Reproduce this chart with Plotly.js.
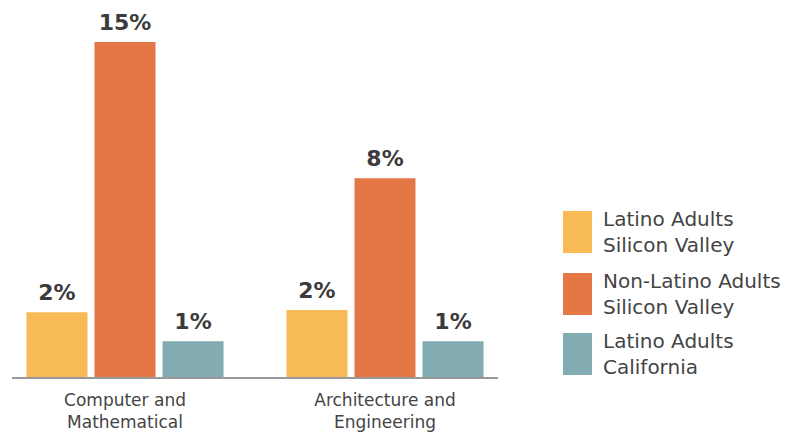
<!DOCTYPE html>
<html><head><meta charset="utf-8">
<script src="https://cdn.plot.ly/plotly-3.0.1.min.js"></script>
<style>html,body{margin:0;padding:0;background:#fff}#chart{width:803px;height:432px}</style>
</head><body><div id="chart"></div>
<script>
const categories = ["Computer and<br>Mathematical", "Architecture and<br>Engineering"];
const seriesNames = ["Latino Adults<br>Silicon Valley", "Non-Latino Adults<br>Silicon Valley", "Latino Adults<br>California"];
const latinoSV = [2.9, 3.0];
const nonLatinoSV = [15.0, 8.9];
const latinoCA = [1.6, 1.6];
const labelsLatinoSV = ["2%", "2%"];
const labelsNonLatinoSV = ["15%", "8%"];
const labelsLatinoCA = ["1%", "1%"];
const colors = ["#F8BA57", "#E57747", "#82ACB1"];

const values = [latinoSV, nonLatinoSV, latinoCA];
const labels = [labelsLatinoSV, labelsNonLatinoSV, labelsLatinoCA];
const labelPad = 0.2; // gap between bar top and its label, in axis units

const traces = [];
values.forEach((v, i) => {
  traces.push({
    type: 'bar', x: categories, y: v, name: seriesNames[i], offsetgroup: 'g' + i,
    marker: {color: colors[i]}, hoverinfo: 'none', showlegend: false
  });
});
values.forEach((v, i) => {
  traces.push({
    type: 'bar', x: categories, y: v.map(() => labelPad), base: v, offsetgroup: 'g' + i,
    marker: {color: 'rgba(0,0,0,0)'},
    text: labels[i], textposition: 'outside', cliponaxis: false,
    textfont: {family: 'DejaVu Sans', size: 22, color: '#3b3b3b', weight: 'bold'},
    hoverinfo: 'none', showlegend: false
  });
});

// custom legend (paper coords relative to plot area)
const L = 12, R = 498, T = 0, B = 377;
const px = p => (p - L) / (R - L);
const py = p => (B - p) / (B - T);
const shapes = [], annotations = [];
const legTop = [211, 273, 333];
colors.forEach((c, i) => {
  shapes.push({type: 'rect', xref: 'paper', yref: 'paper', x0: px(563), x1: px(592), y0: py(legTop[i]), y1: py(legTop[i] + 42), fillcolor: c, line: {width: 0}});
  annotations.push({xref: 'paper', yref: 'paper', x: px(601), y: py(legTop[i] + 21), xanchor: 'left', yanchor: 'middle', align: 'left', showarrow: false, text: seriesNames[i], font: {family: 'DejaVu Sans', size: 20, color: '#444'}});
});

const layout = {
  width: 803, height: 432,
  margin: {l: L, r: 803 - R, t: T, b: 432 - B},
  paper_bgcolor: '#fff', plot_bgcolor: '#fff',
  barmode: 'group', bargap: 0.215, bargroupgap: 0.103,
  xaxis: {range: [-0.4346, 1.4346], showline: true, linecolor: '#999', linewidth: 1.5, ticks: '', showgrid: false, zeroline: false,
    ticklabelstandoff: 7,
    tickfont: {family: 'DejaVu Sans', size: 17, color: '#444'}, fixedrange: true},
  yaxis: {range: [0, 16.88], visible: false, fixedrange: true},
  shapes: shapes, annotations: annotations, showlegend: false
};
Plotly.newPlot('chart', traces, layout, {displayModeBar: false, staticPlot: true});
</script></body></html>
